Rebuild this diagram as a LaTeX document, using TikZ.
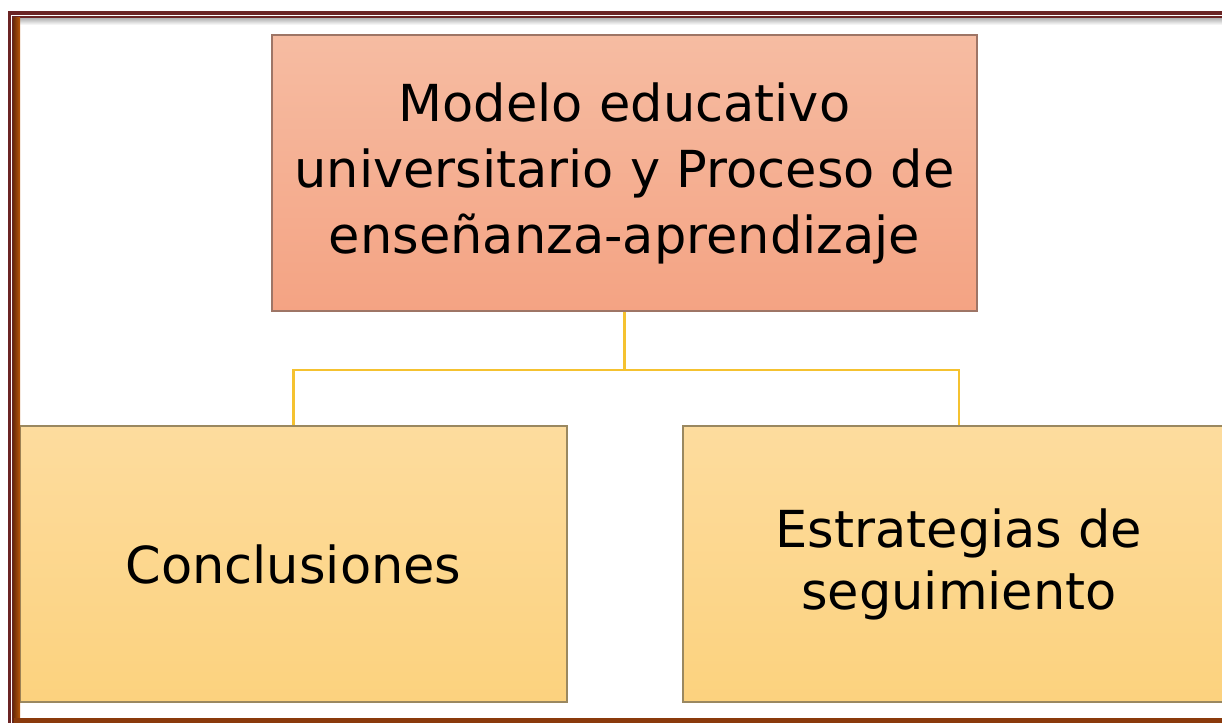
\documentclass[tikz,border=0pt]{standalone}
\usepackage{fontspec}
\setmainfont{DejaVu Sans}
\definecolor{frameRed}{HTML}{6B2424}
\definecolor{frameBrown}{HTML}{8A3A0C}
\definecolor{salmonTop}{HTML}{F6BCA2}
\definecolor{salmonBot}{HTML}{F4A383}
\definecolor{salmonLine}{HTML}{9E7566}
\definecolor{sandTop}{HTML}{FDDC9E}
\definecolor{sandBot}{HTML}{FCD27E}
\definecolor{sandLine}{HTML}{9A8860}
\definecolor{linkGold}{HTML}{F5C230}
\tikzset{
  topbox/.style={draw=salmonLine, line width=1.2pt, top color=salmonTop, bottom color=salmonBot,
    minimum width=352.5pt, minimum height=138pt, inner sep=0pt, align=center,
    font=\fontsize{25.5}{33}\selectfont},
  leafbox/.style={draw=sandLine, line width=1.2pt, top color=sandTop, bottom color=sandBot,
    minimum height=138pt, inner sep=0pt, align=center,
    font=\fontsize{25.5}{31}\selectfont},
  link/.style={draw=linkGold, line width=1.1pt}
}
\begin{document}
\begin{tikzpicture}[x=0.5pt,y=-0.5pt]
  \useasboundingbox (0,0) rectangle (1222,723);
  \clip (0,0) rectangle (1222,723);
  \fill[white] (0,0) rectangle (1222,723);
  % boxes
  \node[topbox] (modelo) at (624.5,173) {Modelo educativo\\universitario y Proceso de\\enseñanza-aprendizaje};
  \node[leafbox, minimum width=273.5pt] (concl) at (293.5,564) {Conclusiones};
  \node[leafbox, minimum width=276pt] (estrat) at (959,564) {Estrategias de\\seguimiento};
  % connectors
  \coordinate (split) at (624.5,370);
  \draw[link] (modelo.south) -- (split) -| (concl.north);
  \draw[link] (split) -| (estrat.north);
  % frame
  \shade[top color=black!35, bottom color=white] (12,17) rectangle (1222,25);
  \fill[frameRed] (8,11) rectangle (1222,15);
  \fill[frameRed] (12,16) rectangle (1222,17.5);
  \fill[frameRed] (8,11) rectangle (11,723);
  \fill[frameRed] (12,16) rectangle (13.5,723);
  \shade[left color=frameBrown!80!black, right color=frameBrown!60!orange] (13.5,17) rectangle (20,723);
  \fill[frameBrown] (13.5,718) rectangle (1222,723);
\end{tikzpicture}
\end{document}
